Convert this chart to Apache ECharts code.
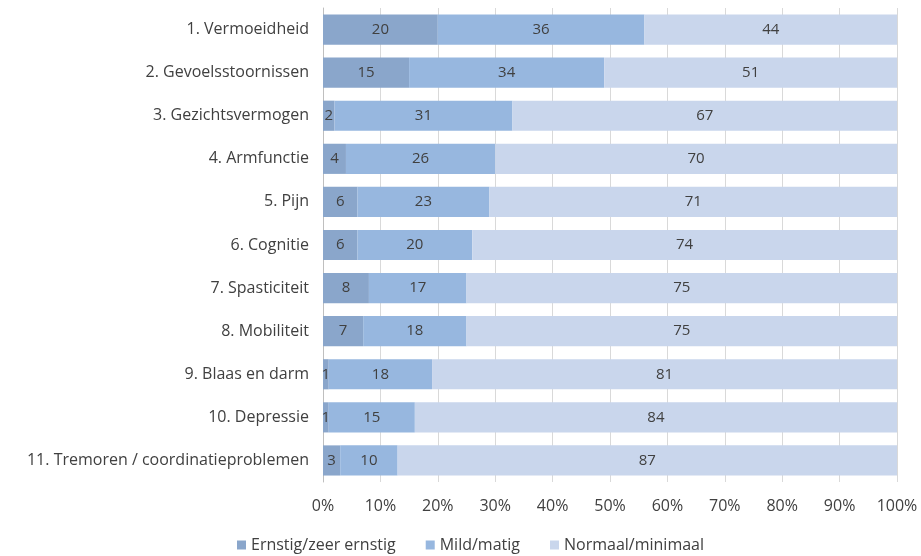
<!DOCTYPE html>
<html lang="nl">
<head>
<meta charset="UTF-8">
<title>Klachten</title>
<script src="https://cdn.jsdelivr.net/npm/echarts@6/dist/echarts.min.js"></script>
<style>
  html, body { margin: 0; padding: 0; background: #fff; }
  #chart { width: 921px; height: 556px; }
</style>
</head>
<body>
<div id="chart"></div>
<script>
// categorieën en percentages
var categories = ['1. Vermoeidheid', '2. Gevoelsstoornissen', '3. Gezichtsvermogen', '4. Armfunctie',
  '5. Pijn', '6. Cognitie', '7. Spasticiteit', '8. Mobiliteit', '9. Blaas en darm',
  '10. Depressie', '11. Tremoren / coordinatieproblemen'];
var ernstig = [20, 15, 2, 4, 6, 6, 8, 7, 1, 1, 3];
var mild = [36, 34, 31, 26, 23, 20, 17, 18, 18, 15, 10];
var normaal = [44, 51, 67, 70, 71, 74, 75, 75, 81, 84, 87];
var xTicks = [0, 10, 20, 30, 40, 50, 60, 70, 80, 90, 100];

var font = '"Open Sans", Lato, sans-serif';
var textColor = '#404040';

function serie(name, data, color) {
  return {
    name: name, type: 'bar', stack: 'tot', data: data, barWidth: '70%',
    itemStyle: { color: color },
    label: { show: true, position: 'inside', color: textColor, fontSize: 15, fontFamily: font },
    emphasis: { disabled: true }
  };
}

var chart = echarts.init(document.getElementById('chart'));
chart.setOption({
  animation: false,
  grid: { left: 323, right: 24, top: 8, bottom: 74, containLabel: false },
  legend: {
    bottom: -2, left: 232, itemWidth: 9, itemHeight: 9, itemGap: 30,
    icon: 'rect',
    textStyle: { color: textColor, fontSize: 16, fontFamily: font }
  },
  xAxis: {
    type: 'value', min: 0, max: 100, interval: 10,
    axisLabel: {
      color: textColor, fontSize: 16, fontFamily: font, margin: 16,
      formatter: function (v) { return xTicks.indexOf(v) >= 0 ? v + '%' : ''; }
    },
    axisLine: { show: false }, axisTick: { show: false },
    splitLine: { lineStyle: { color: '#d9d9d9' } }
  },
  yAxis: {
    type: 'category', data: categories, inverse: true,
    axisLine: { show: true, lineStyle: { color: '#bfbfbf' } },
    axisTick: { show: false },
    axisLabel: { color: textColor, fontSize: 16, fontFamily: font, margin: 14 }
  },
  series: [
    serie('Ernstig/zeer ernstig', ernstig, '#8aa6cb'),
    serie('Mild/matig', mild, '#97b7df'),
    serie('Normaal/minimaal', normaal, '#c9d6ec')
  ]
});
</script>
</body>
</html>
